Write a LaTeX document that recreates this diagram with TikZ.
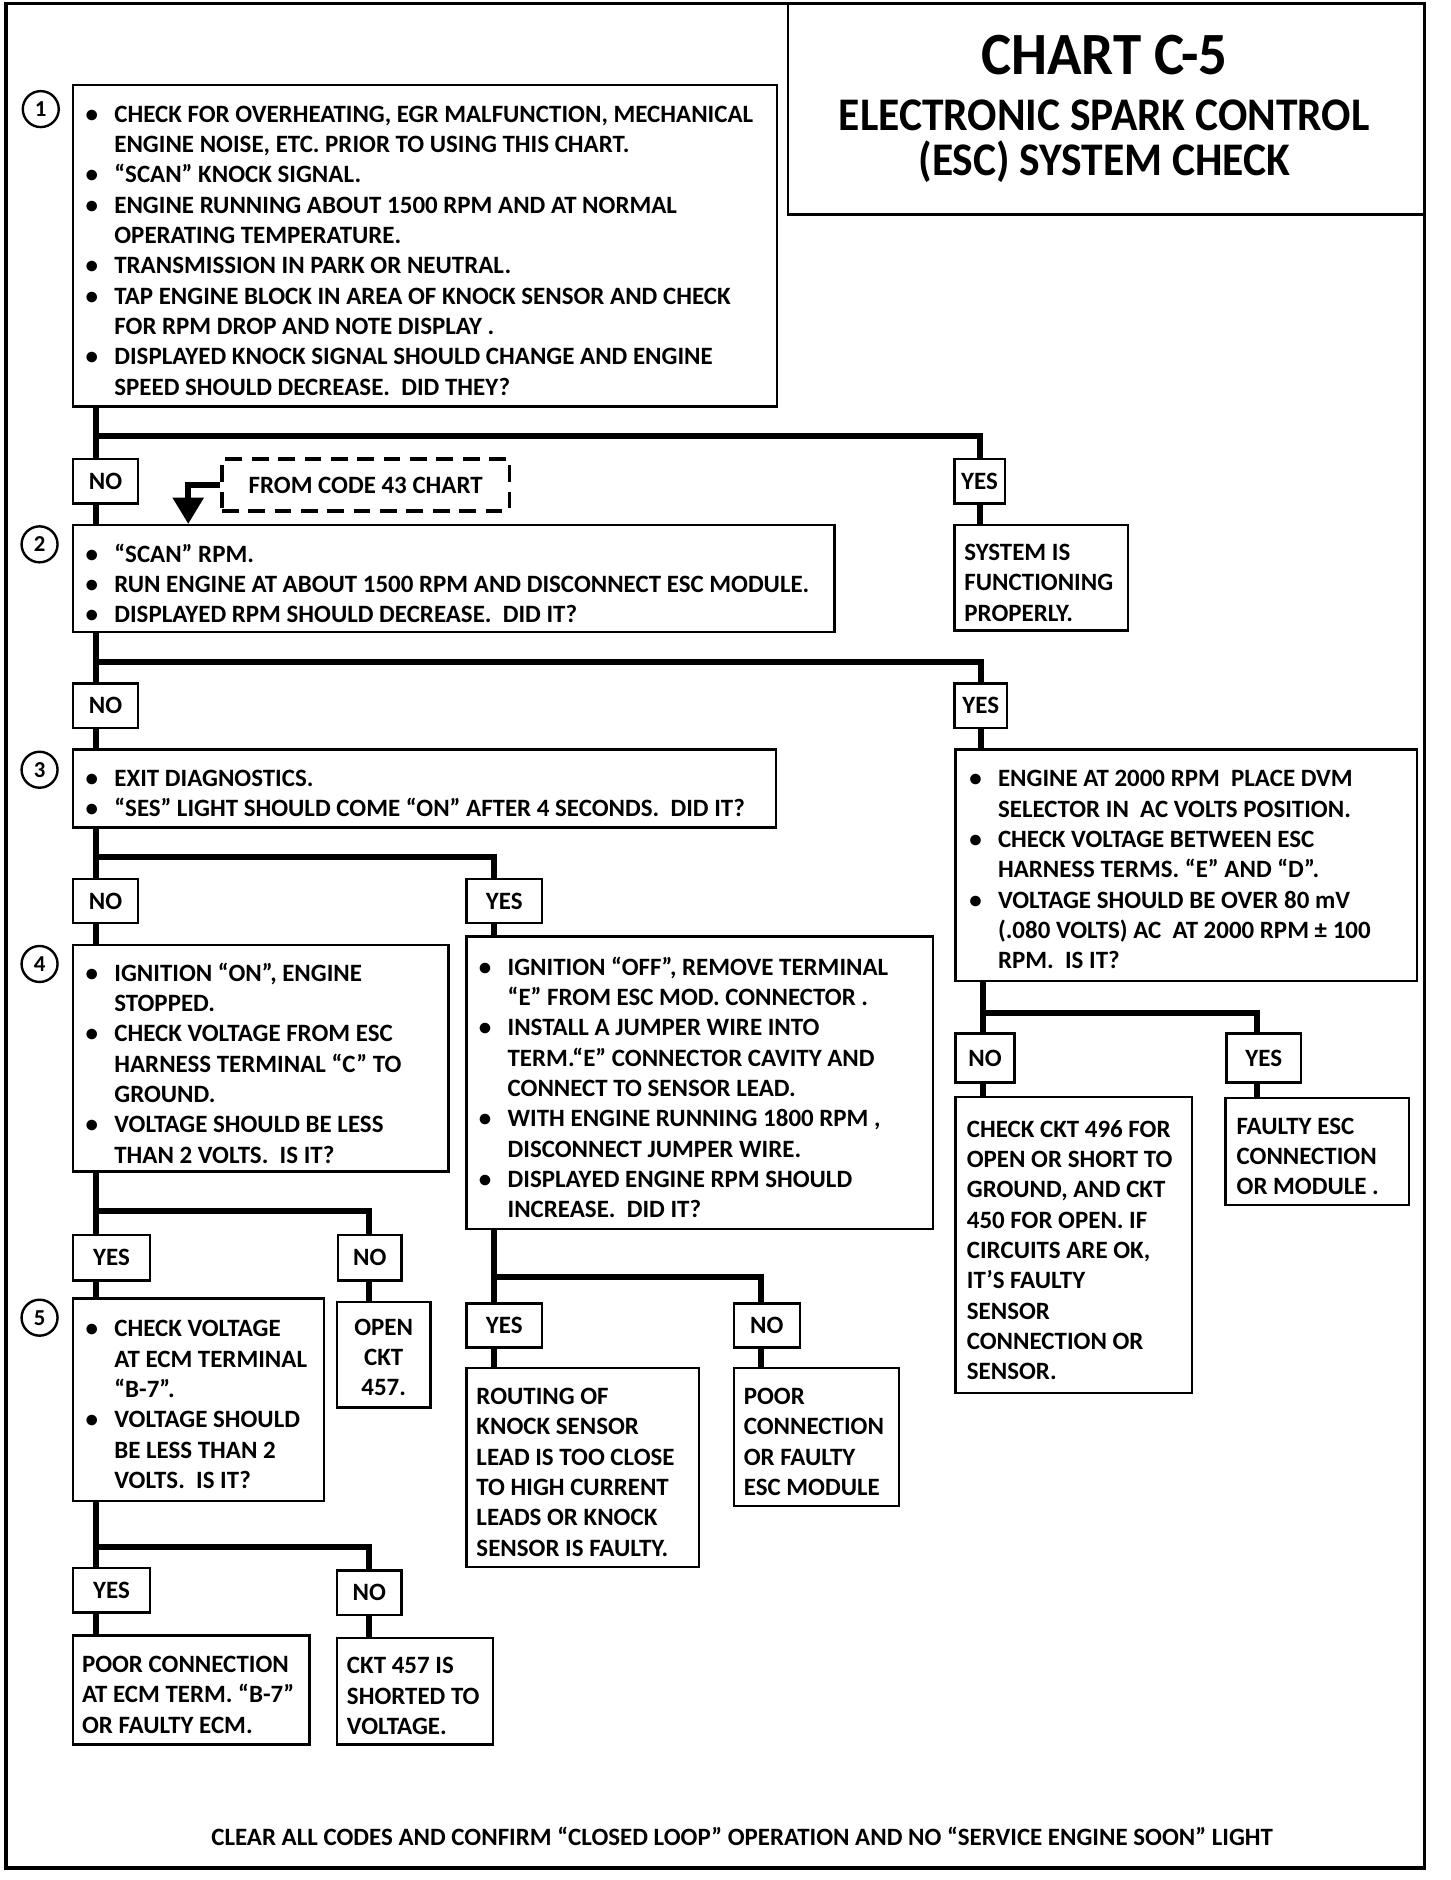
\documentclass[tikz,border=0pt]{standalone}
\usepackage{fontspec}
\setmainfont{Carlito}
\usetikzlibrary{fit,arrows.meta}
\newcommand{\bul}{\makebox[12pt][l]{\textbullet}}
\newcommand{\ind}{\hspace*{12pt}}
\begin{document}
\begin{tikzpicture}[x=0.5pt,y=-0.5pt,
  box/.style={draw, line width=1pt, inner sep=0pt},
  yn/.style={draw, line width=1pt, inner sep=0pt},
  ynl/.style={inner sep=0pt, font=\bfseries\fontsize{10.4}{12}\selectfont},
  txt/.style={anchor=west, align=left, inner sep=0pt, yshift=-2pt, font=\bfseries\fontsize{10.4}{12.65}\selectfont},
  ctxt/.style={align=center, inner sep=0pt, yshift=-1pt, font=\bfseries\fontsize{10.4}{12.65}\selectfont},
  ttl/.style={anchor=base, inner sep=0pt, font=\bfseries\fontsize{19.5}{19.5}\selectfont},
  conn/.style={line width=2.5pt},
  num/.style={circle, draw, line width=1pt, minimum size=15pt, inner sep=0pt, font=\bfseries\fontsize{9.5}{9.5}\selectfont},
  dbox/.style={draw, line width=1.5pt, dash pattern=on 7pt off 4pt, inner sep=0pt}]
\useasboundingbox (0,0) rectangle (1210,1568);
% frame and title
\draw[line width=1.5pt] (5,3) rectangle (1188,1558);
\node[box, fit={(657,3) (1188,179)}] (title) {};
\node[font=\bfseries\fontsize{25}{28}\selectfont, inner sep=0pt] (t1) at (921,46) {\scalebox{0.95}[1]{CHART C-5}};
\node[ttl] (t2) at (921,109) {\scalebox{0.93}[1]{ELECTRONIC SPARK CONTROL}};
\node[ttl] (t3) at (921,146) {\scalebox{0.93}[1]{(ESC) SYSTEM CHECK}};
% step numbers
\node[num] (c1) at (34,91) {1};
\node[num] (c2) at (33,454) {2};
\node[num] (c3) at (33,642) {3};
\node[num] (c4) at (33,804) {4};
\node[num] (c5) at (33,1099) {5};
% box 1
\node[box, fit={(61,71) (648,339)}] (b1) {};
\node[txt] (b1t) at ([xshift=5.5pt]b1.west) {\bul CHECK FOR OVERHEATING, EGR MALFUNCTION, MECHANICAL\\
\ind ENGINE NOISE, ETC. PRIOR TO USING THIS CHART.\\
\bul “SCAN” KNOCK SIGNAL.\\
\bul ENGINE RUNNING ABOUT 1500 RPM AND AT NORMAL\\
\ind OPERATING TEMPERATURE.\\
\bul TRANSMISSION IN PARK OR NEUTRAL.\\
\bul TAP ENGINE BLOCK IN AREA OF KNOCK SENSOR AND CHECK\\
\ind FOR RPM DROP AND NOTE DISPLAY .\\
\bul DISPLAYED KNOCK SIGNAL SHOULD CHANGE AND ENGINE\\
\ind SPEED SHOULD DECREASE.\ \ DID THEY?};
\node[yn, fit={(61,383) (115,420)}, label={[ynl]center:NO}] (n1) {};
\node[yn, fit={(796,383) (838,420)}, label={[ynl]center:YES}] (y1) {};
\node[box, fit={(796,438) (941,526)}] (sys) {};
\node[txt] (syst) at ([xshift=4.5pt]sys.west) {SYSTEM IS\\FUNCTIONING\\PROPERLY.};
\node[dbox, fit={(185,383) (425,426)}] (fc) {};
\node[font=\bfseries\fontsize{10.4}{12}\selectfont, inner sep=0pt] (fct) at (fc.center) {FROM CODE 43 CHART};
\coordinate (ar) at (157,404);
% box 2
\node[box, fit={(61,438) (696,527)}] (b2) {};
\node[txt] (b2t) at ([xshift=5.5pt]b2.west) {\bul “SCAN” RPM.\\
\bul RUN ENGINE AT ABOUT 1500 RPM AND DISCONNECT ESC MODULE.\\
\bul DISPLAYED RPM SHOULD DECREASE.\ \ DID IT?};
\node[yn, fit={(61,570) (115,607)}, label={[ynl]center:NO}] (n2) {};
\node[yn, fit={(796,570) (840,607)}, label={[ynl]center:YES}] (y2) {};
% box ESC
\node[box, fit={(797,625) (1182,818)}] (esc) {};
\node[txt] (esct) at ([xshift=6pt]esc.west) {\bul ENGINE AT 2000 RPM\ \ PLACE DVM\\
\ind SELECTOR IN\ \ AC VOLTS POSITION.\\
\bul CHECK VOLTAGE BETWEEN ESC\\
\ind HARNESS TERMS. “E” AND “D”.\\
\bul VOLTAGE SHOULD BE OVER 80 mV\\
\ind (.080 VOLTS) AC\ \ AT 2000 RPM ± 100\\
\ind RPM.\ \ IS IT?};
% box 3
\node[box, fit={(61,625) (647,690)}] (b3) {};
\node[txt] (b3t) at ([xshift=5.5pt]b3.west) {\bul EXIT DIAGNOSTICS.\\
\bul “SES” LIGHT SHOULD COME “ON” AFTER 4 SECONDS.\ \ DID IT?};
\node[yn, fit={(61,733) (115,770)}, label={[ynl]center:NO}] (n3) {};
\node[yn, fit={(389,733) (452,770)}, label={[ynl]center:YES}] (y3) {};
% box 4
\node[box, fit={(61,788) (374,977)}] (b4) {};
\node[txt] (b4t) at ([xshift=5.5pt]b4.west) {\bul IGNITION “ON”, ENGINE\\
\ind STOPPED.\\
\bul CHECK VOLTAGE FROM ESC\\
\ind HARNESS TERMINAL “C” TO\\
\ind GROUND.\\
\bul VOLTAGE SHOULD BE LESS\\
\ind THAN 2 VOLTS.\ \ IS IT?};
% ignition off box
\node[box, fit={(389,781) (778,1025)}] (ign) {};
\node[txt] (ignt) at ([xshift=5.5pt]ign.west) {\bul IGNITION “OFF”, REMOVE TERMINAL\\
\ind “E” FROM ESC MOD. CONNECTOR .\\
\bul INSTALL A JUMPER WIRE INTO\\
\ind TERM.“E” CONNECTOR CAVITY AND\\
\ind CONNECT TO SENSOR LEAD.\\
\bul WITH ENGINE RUNNING 1800 RPM ,\\
\ind DISCONNECT JUMPER WIRE.\\
\bul DISPLAYED ENGINE RPM SHOULD\\
\ind INCREASE.\ \ DID IT?};
% under box 4
\node[yn, fit={(61,1030) (125,1068)}, label={[ynl]center:YES}] (y4) {};
\node[yn, fit={(282,1030) (335,1068)}, label={[ynl]center:NO}] (n4) {};
\node[box, fit={(281,1086) (359,1174)}] (open) {};
\node[ctxt] (opent) at (open.center) {OPEN\\CKT\\457.};
% box 5
\node[box, fit={(61,1083) (270,1252)}] (b5) {};
\node[txt] (b5t) at ([xshift=5.5pt]b5.west) {\bul CHECK VOLTAGE\\
\ind AT ECM TERMINAL\\
\ind “B-7”.\\
\bul VOLTAGE SHOULD\\
\ind BE LESS THAN 2\\
\ind VOLTS.\ \ IS IT?};
\node[yn, fit={(61,1308) (125,1345)}, label={[ynl]center:YES}] (y5) {};
\node[yn, fit={(281,1310) (335,1347)}, label={[ynl]center:NO}] (n5) {};
\node[box, fit={(61,1364) (258,1455)}] (pe) {};
\node[txt] (pet) at ([xshift=4pt]pe.west) {POOR CONNECTION\\AT ECM TERM. “B-7”\\OR FAULTY ECM.};
\node[box, fit={(281,1366) (411,1455)}] (ck) {};
\node[txt] (ckt) at ([xshift=4.5pt]ck.west) {CKT 457 IS\\SHORTED TO\\VOLTAGE.};
% under ignition box
\node[yn, fit={(389,1087) (452,1124)}, label={[ynl]center:YES}] (y6) {};
\node[yn, fit={(612,1087) (667,1124)}, label={[ynl]center:NO}] (n6) {};
\node[box, fit={(389,1141) (583,1307)}] (rt) {};
\node[txt] (rtt) at ([xshift=4.5pt]rt.west) {ROUTING OF\\KNOCK SENSOR\\LEAD IS TOO CLOSE\\TO HIGH CURRENT\\LEADS OR KNOCK\\SENSOR IS FAULTY.};
\node[box, fit={(612,1141) (750,1256)}] (pc) {};
\node[txt] (pct) at ([xshift=4.5pt]pc.west) {POOR\\CONNECTION\\OR FAULTY\\ESC MODULE};
% under ESC box
\node[yn, fit={(797,862) (846,903)}, label={[ynl]center:NO}] (n7) {};
\node[yn, fit={(1023,862) (1085,903)}, label={[ynl]center:YES}] (y7) {};
\node[box, fit={(797,915) (994,1162)}] (c496) {};
\node[txt] (c496t) at ([xshift=5pt]c496.west) {CHECK CKT 496 FOR\\OPEN OR SHORT TO\\GROUND, AND CKT\\450 FOR OPEN. IF\\CIRCUITS ARE OK,\\IT’S FAULTY\\SENSOR\\CONNECTION OR\\SENSOR.};
\node[box, fit={(1022,916) (1175,1005)}] (fe) {};
\node[txt] (fet) at ([xshift=5pt]fe.west) {FAULTY ESC\\CONNECTION\\OR MODULE .};
% footer
\node[font=\bfseries\fontsize{10.4}{12}\selectfont, inner sep=0pt] (foot) at (619,1532) {CLEAR ALL CODES AND CONFIRM “CLOSED LOOP” OPERATION AND NO “SERVICE ENGINE SOON” LIGHT};
% junction coordinates
\coordinate (j1) at (80,364);
\coordinate (j2) at (80,552);
\coordinate (j3) at (80,715);
\coordinate (k3) at (412,715);
\coordinate (j4) at (80,1010);
\coordinate (k4) at (308,1010);
\coordinate (j5) at (80,1290);
\coordinate (k5) at (308,1290);
\coordinate (j6) at (412,1065);
\coordinate (k6) at (635,1065);
\coordinate (j7) at (820,845);
\coordinate (k7) at (1048,845);
% connectors
\draw[conn] (b1.south -| j1) -- (j1) -| (y1.north);
\draw[conn] (j1) -- (n1.north -| j1);
\draw[conn] (n1.south -| j1) -- (b2.north -| j1);
\draw[conn] (y1.south) -- (y1.south |- sys.north);
\draw[conn, -{Triangle[length=11pt,width=12.5pt]}] (fc.west) -| (b2.north -| ar);
\draw[conn] (b2.south -| j2) -- (j2) -| (y2.north);
\draw[conn] (j2) -- (n2.north -| j2);
\draw[conn] (n2.south -| j2) -- (b3.north -| j2);
\draw[conn] (y2.south) -- (y2.south |- esc.north);
\draw[conn] (b3.south -| j3) -- (j3) -- (k3) -- (y3.north -| k3);
\draw[conn] (j3) -- (n3.north -| j3);
\draw[conn] (n3.south -| j3) -- (b4.north -| j3);
\draw[conn] (y3.south -| k3) -- (ign.north -| k3);
\draw[conn] (b4.south -| j4) -- (j4) -- (k4) -- (n4.north -| k4);
\draw[conn] (j4) -- (y4.north -| j4);
\draw[conn] (y4.south -| j4) -- (b5.north -| j4);
\draw[conn] (n4.south -| k4) -- (open.north -| k4);
\draw[conn] (b5.south -| j5) -- (j5) -- (k5) -- (n5.north -| k5);
\draw[conn] (j5) -- (y5.north -| j5);
\draw[conn] (y5.south -| j5) -- (pe.north -| j5);
\draw[conn] (n5.south -| k5) -- (ck.north -| k5);
\draw[conn] (ign.south -| j6) -- (j6) -- (k6) -- (n6.north -| k6);
\draw[conn] (j6) -- (y6.north -| j6);
\draw[conn] (y6.south -| j6) -- (rt.north -| j6);
\draw[conn] (n6.south -| k6) -- (pc.north -| k6);
\draw[conn] (esc.south -| j7) -- (j7) -- (k7) -- (y7.north -| k7);
\draw[conn] (j7) -- (n7.north -| j7);
\draw[conn] (n7.south -| j7) -- (c496.north -| j7);
\draw[conn] (y7.south -| k7) -- (fe.north -| k7);
\end{tikzpicture}
\end{document}
